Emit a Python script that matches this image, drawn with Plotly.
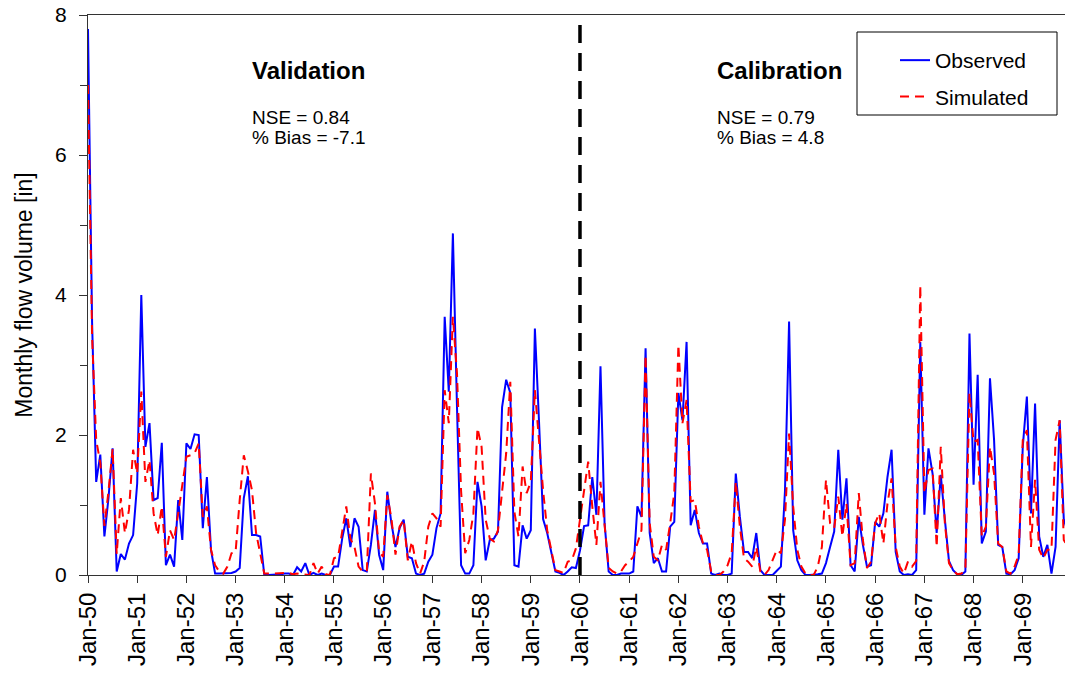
import plotly.graph_objects as go

# Monthly flow volume [in], Jan-1950 .. Dec-1969 (240 months)
observed = [
    7.8, 3.6, 1.33, 1.72, 0.55, 1.1, 1.81, 0.05, 0.3, 0.22, 0.45, 0.57,
    1.31, 4.0, 1.83, 2.17, 1.07, 1.1, 1.89, 0.14, 0.29, 0.12, 1.07, 0.5,
    1.88, 1.8, 2.01, 2.0, 0.67, 1.4, 0.36, 0.02, 0.02, 0.02, 0.02, 0.03,
    0.05, 0.1, 1.1, 1.41, 0.57, 0.57, 0.55, 0.0, 0.0, 0.0, 0.0, 0.01,
    0.02, 0.02, 0.0, 0.11, 0.05, 0.17, 0.0, 0.03, 0.0, 0.02, 0.0, 0.0,
    0.12, 0.12, 0.52, 0.81, 0.4, 0.81, 0.69, 0.07, 0.05, 0.43, 0.93, 0.29,
    0.07, 1.19, 0.74, 0.4, 0.67, 0.79, 0.26, 0.24, 0.02, 0.0, 0.02, 0.19,
    0.29, 0.67, 0.88, 3.69, 2.62, 4.88, 2.4, 0.14, 0.02, 0.02, 0.14, 1.33,
    0.98, 0.21, 0.5, 0.52, 0.62, 2.4, 2.79, 2.6, 0.14, 0.12, 0.71, 0.52,
    0.64, 3.52, 2.2, 0.8, 0.6, 0.3, 0.05, 0.03, 0.0, 0.05, 0.11, 0.1,
    0.35, 0.7, 0.71, 1.4, 0.86, 2.98, 0.74, 0.05, 0.0, 0.0, 0.02, 0.02,
    0.02, 0.05, 0.98, 0.83, 3.24, 0.6, 0.17, 0.24, 0.05, 0.05, 0.69, 0.76,
    2.6, 2.21, 3.33, 0.71, 0.93, 0.6, 0.45, 0.45, 0.02, 0.0, 0.02, 0.0,
    0.0, 0.02, 1.45, 0.83, 0.33, 0.33, 0.24, 0.6, 0.07, 0.0, 0.0, 0.0,
    0.06, 0.12, 1.2, 3.62, 0.64, 0.21, 0.07, 0.0, 0.0, 0.0, 0.01, 0.02,
    0.17, 0.4, 0.62, 1.79, 0.79, 1.38, 0.14, 0.05, 0.83, 0.43, 0.12, 0.14,
    0.76, 0.69, 0.88, 1.4, 1.79, 0.33, 0.05, 0.0, 0.01, 0.0, 0.07, 3.33,
    0.86, 1.81, 1.45, 0.6, 1.43, 0.79, 0.2, 0.07, 0.01, 0.0, 0.05, 3.45,
    1.29, 2.86, 0.45, 0.62, 2.81, 1.93, 0.43, 0.4, 0.02, 0.01, 0.07, 0.24,
    1.83, 2.55, 0.88, 2.45, 0.55, 0.26, 0.43, 0.02, 0.4, 2.21, 0.8, 0.6,
]

simulated = [
    7.0, 3.4, 1.93, 1.6, 0.7, 1.2, 1.8, 0.3, 1.1, 0.6, 0.93, 1.79,
    1.45, 2.62, 1.33, 1.64, 0.88, 0.57, 0.98, 0.26, 0.64, 0.5, 0.88, 1.26,
    1.69, 1.71, 1.74, 1.88, 0.83, 0.98, 0.36, 0.14, 0.05, 0.02, 0.12, 0.31,
    0.33, 1.07, 1.71, 1.48, 1.21, 0.6, 0.31, 0.02, 0.02, 0.02, 0.02, 0.02,
    0.03, 0.03, 0.01, 0.02, 0.01, 0.0, 0.0, 0.17, 0.02, 0.12, 0.01, 0.0,
    0.24, 0.26, 0.64, 0.98, 0.52, 0.4, 0.12, 0.05, 0.05, 1.45, 1.02, 0.33,
    0.26, 1.14, 0.81, 0.29, 0.69, 0.79, 0.21, 0.48, 0.17, 0.02, 0.19, 0.69,
    0.88, 0.81, 0.69, 2.64, 2.17, 3.69, 2.88, 1.2, 0.31, 0.5, 0.88, 2.1,
    1.83, 0.79, 0.52, 0.48, 0.64, 1.17, 1.74, 2.76, 0.9, 0.55, 1.55, 1.17,
    1.33, 2.64, 1.93, 1.21, 0.64, 0.35, 0.07, 0.05, 0.03, 0.19, 0.21, 0.38,
    0.8, 1.17, 1.62, 0.98, 0.43, 1.33, 0.69, 0.1, 0.05, 0.02, 0.05, 0.14,
    0.19, 0.26, 0.45, 0.64, 3.14, 0.74, 0.26, 0.21, 0.43, 0.36, 0.74, 1.17,
    3.29, 2.17, 2.5, 1.05, 1.07, 0.69, 0.45, 0.36, 0.05, 0.0, 0.0, 0.05,
    0.14, 0.31, 1.33, 0.69, 0.24, 0.19, 0.12, 0.4, 0.05, 0.0, 0.07, 0.21,
    0.36, 0.31, 0.79, 2.02, 0.98, 0.36, 0.12, 0.02, 0.0, 0.0, 0.12, 0.4,
    1.36, 0.74, 0.67, 1.12, 0.55, 1.02, 0.14, 0.17, 1.17, 0.5, 0.1, 0.19,
    0.74, 0.88, 0.45, 1.02, 1.38, 0.4, 0.12, 0.02, 0.19, 0.12, 0.2, 4.14,
    1.17, 1.5, 1.52, 0.4, 1.83, 0.74, 0.17, 0.07, 0.01, 0.02, 0.07, 2.6,
    1.9, 1.93, 0.55, 0.69, 1.83, 1.45, 0.45, 0.4, 0.05, 0.02, 0.12, 0.29,
    1.93, 2.07, 0.4, 1.36, 0.36, 0.24, 0.36, 0.36, 1.93, 2.21, 0.5, 0.4,
]

months = list(range(len(observed)))
tick_positions = list(range(0, 240, 12))
tick_labels = ["Jan-%02d" % (50 + i) for i in range(20)]
split_month = 120

FONT = "Arial, Liberation Sans, sans-serif"

fig = go.Figure()
fig.add_trace(go.Scatter(
    x=months, y=observed, mode="lines", name="Observed",
    line=dict(color="#0000FF", width=2), legendgroup="a",
))
fig.add_trace(go.Scatter(
    x=months, y=simulated, mode="lines", name="Simulated",
    line=dict(color="#FF0000", width=2, dash="9px,6px"), legendgroup="b",
))

fig.add_shape(type="line", xref="x", yref="y", x0=split_month, x1=split_month,
              y0=0, y1=8, line=dict(color="black", width=3.5, dash="18px,10px"))


def px_x(p):
    return (p - 88) / 977


def px_y(p):
    return (575 - p) / 560


# legend frame
fig.add_shape(type="rect", xref="paper", yref="paper",
              x0=px_x(857), x1=px_x(1057), y0=px_y(115), y1=px_y(32),
              line=dict(color="black", width=1), fillcolor="rgba(0,0,0,0)")

for x0, title, nse, bias in [(250, "Validation", "NSE = 0.84", "% Bias = -7.1"),
                             (715, "Calibration", "NSE = 0.79", "% Bias = 4.8")]:
    fig.add_annotation(x=px_x(x0), y=px_y(70), xref="paper", yref="paper",
                       text="<b>%s</b>" % title, showarrow=False,
                       xanchor="left", yanchor="middle",
                       font=dict(family=FONT, size=24, color="black"))
    fig.add_annotation(x=px_x(x0), y=px_y(117), xref="paper", yref="paper",
                       text=nse, showarrow=False, xanchor="left", yanchor="middle",
                       font=dict(family=FONT, size=19, color="black"))
    fig.add_annotation(x=px_x(x0), y=px_y(137), xref="paper", yref="paper",
                       text=bias, showarrow=False, xanchor="left", yanchor="middle",
                       font=dict(family=FONT, size=19, color="black"))

fig.update_layout(
    width=1065, height=676,
    margin=dict(l=88, r=0, t=15, b=101),
    paper_bgcolor="white", plot_bgcolor="white",
    font=dict(family=FONT, size=20, color="black"),
    showlegend=True,
    legend=dict(x=px_x(895), y=px_y(40), xanchor="left", yanchor="top",
                bgcolor="rgba(0,0,0,0)", borderwidth=0,
                font=dict(family=FONT, size=21, color="black"),
                traceorder="grouped", tracegroupgap=6),
    xaxis=dict(range=[0, 238.3], tickvals=tick_positions, ticktext=tick_labels,
               tickangle=-90, ticks="outside", ticklen=7, tickcolor="#333",
               showline=True, linecolor="#333", linewidth=1, mirror=True,
               showgrid=False, zeroline=False,
               tickfont=dict(family=FONT, size=24, color="black")),
    yaxis=dict(range=[0, 8], tickvals=[0, 2, 4, 6, 8], ticks="outside",
               ticklen=8, tickcolor="#333", showline=True, linecolor="#333",
               linewidth=1, showgrid=False, zeroline=False,
               ticklabelstandoff=8,
               minor=dict(tickvals=[1, 3, 5, 7], ticks="outside", ticklen=7,
                          tickcolor="#333", showgrid=False),
               tickfont=dict(family=FONT, size=21, color="black"),
               title=dict(text="Monthly flow volume [in]", standoff=16,
                          font=dict(family=FONT, size=23, color="black"))),
)

fig.write_html("out.html")
